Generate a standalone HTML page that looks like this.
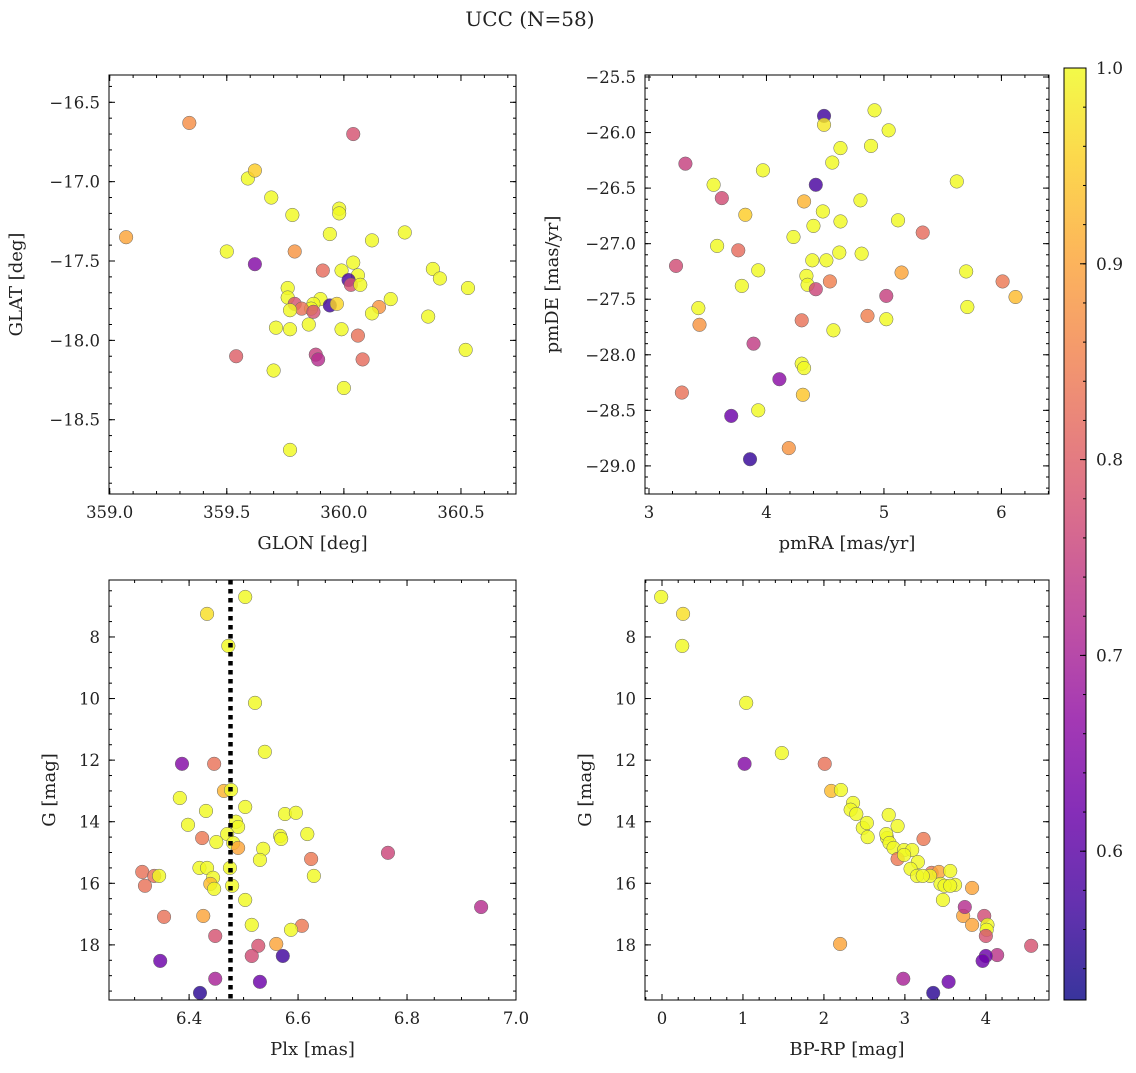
<!DOCTYPE html>
<html><head><meta charset="utf-8"><style>
body{margin:0;background:#fff;}
svg text{font-family:"DejaVu Serif","Liberation Serif",serif;fill:#222;}
</style></head><body>
<svg id="c" width="1136" height="1068" xmlns="http://www.w3.org/2000/svg">
<text x="530" y="26" font-size="20" text-anchor="middle">UCC (N=58)</text>
</svg>
<script>
// Panel 1: GLON / GLAT / prob
const p1x=[359.34,360.04,359.07,359.59,359.62,359.69,359.78,359.50,359.62,359.79,359.98,359.98,359.94,360.12,360.26,359.91,359.99,360.04,360.06,360.02,360.03,360.07,360.38,360.41,360.53,359.76,359.76,359.90,359.87,359.86,359.94,359.97,359.79,359.82,359.77,359.87,360.15,360.20,360.12,360.36,359.71,359.77,359.85,359.99,360.06,359.54,359.88,359.89,360.08,360.52,359.70,360.00,359.77];
const p1y=[-16.63,-16.70,-17.35,-16.98,-16.93,-17.10,-17.21,-17.44,-17.52,-17.44,-17.17,-17.20,-17.33,-17.37,-17.32,-17.56,-17.56,-17.51,-17.59,-17.62,-17.65,-17.65,-17.55,-17.61,-17.67,-17.67,-17.73,-17.74,-17.77,-17.80,-17.78,-17.77,-17.77,-17.80,-17.81,-17.82,-17.79,-17.74,-17.83,-17.85,-17.92,-17.93,-17.90,-17.93,-17.97,-18.10,-18.09,-18.12,-18.12,-18.06,-18.19,-18.30,-18.69];
const p1c=[0.87,0.78,0.9,1,0.95,1,1,1,0.65,0.88,1,1,1,1,1,0.82,1,1,1,0.58,0.78,1,1,1,1,1,1,1,1,1,0.57,0.96,0.78,0.83,1,0.78,0.88,1,1,1,1,1,1,1,0.83,0.8,0.75,0.72,0.82,1,1,1,1];
// Panel 2: pmRA / pmDE / prob
const p2x=[4.92,4.49,4.49,5.04,4.89,4.63,4.56,3.31,3.97,4.42,3.55,5.62,3.62,4.80,4.32,4.48,3.82,4.63,5.12,4.40,4.23,5.33,3.58,3.76,4.62,4.81,4.39,4.51,3.23,3.93,5.15,5.70,4.34,6.01,4.54,4.35,3.79,4.42,5.02,6.12,3.42,5.71,4.86,5.02,4.30,3.43,4.57,3.89,4.30,4.32,4.11,4.31,3.28,3.93,3.70,4.19,3.86];
const p2y=[-25.80,-25.85,-25.93,-25.98,-26.12,-26.14,-26.27,-26.28,-26.34,-26.47,-26.47,-26.44,-26.59,-26.61,-26.62,-26.71,-26.74,-26.80,-26.79,-26.84,-26.94,-26.90,-27.02,-27.06,-27.08,-27.09,-27.15,-27.15,-27.20,-27.24,-27.26,-27.25,-27.29,-27.34,-27.34,-27.37,-27.38,-27.41,-27.47,-27.48,-27.58,-27.57,-27.65,-27.68,-27.69,-27.73,-27.78,-27.90,-28.08,-28.12,-28.22,-28.36,-28.34,-28.50,-28.55,-28.84,-28.94];
const p2c=[1,0.57,0.98,1,1,1,1,0.75,1,0.58,1,1,0.77,1,0.92,1,0.95,1,1,1,1,0.82,1,0.82,1,1,1,1,0.77,1,0.9,1,1,0.84,0.85,1,1,0.76,0.75,0.93,1,1,0.85,1,0.83,0.88,1,0.74,1,1,0.66,0.94,0.83,1,0.62,0.88,0.56];
// Panel 3: Plx / G / prob
const p3x=[6.503,6.433,6.472,6.521,6.539,6.387,6.446,6.383,6.464,6.477,6.431,6.503,6.398,6.486,6.490,6.576,6.596,6.47,6.424,6.567,6.569,6.617,6.481,6.450,6.490,6.536,6.624,6.530,6.765,6.314,6.419,6.433,6.336,6.345,6.444,6.475,6.629,6.439,6.319,6.446,6.479,6.503,6.354,6.426,6.607,6.515,6.587,6.936,6.448,6.560,6.527,6.515,6.572,6.347,6.448,6.530,6.420];
const p3y=[6.70,7.25,8.29,10.14,11.73,12.12,12.12,13.23,13.00,12.97,13.65,13.52,14.10,14.00,14.17,13.75,13.71,14.4,14.53,14.46,14.56,14.40,14.69,14.66,14.85,14.88,15.21,15.24,15.01,15.63,15.50,15.50,15.76,15.76,15.82,15.50,15.76,16.02,16.08,16.18,16.08,16.54,17.09,17.06,17.38,17.35,17.51,16.77,17.71,17.97,18.03,18.36,18.36,18.52,19.10,19.20,19.56];
const p3c=[1,0.97,1,1,1,0.65,0.83,1,0.92,1,1,1,1,1,1,1,1,1,0.84,1,1,1,1,1,0.9,1,0.84,1,0.76,0.83,1,1,0.83,1,1,1,1,0.93,0.83,1,1,1,0.83,0.9,0.84,1,1,0.72,0.78,0.9,0.78,0.77,0.57,0.62,0.7,0.62,0.55];
// Panel 4: BP-RP / G / prob
const p4x=[-0.01,0.26,0.25,1.04,1.02,1.48,2.01,2.09,2.21,2.36,2.33,2.40,2.80,2.48,2.53,2.91,3.23,2.54,2.78,2.77,2.81,2.86,2.99,3.09,2.91,2.99,3.16,3.07,3.33,3.42,3.56,3.31,3.15,3.22,3.44,3.62,3.49,3.56,3.83,3.47,3.72,3.98,3.74,3.83,4.02,4.01,4.00,2.20,4.56,4.14,4.00,3.96,2.98,3.54,3.35];
const p4y=[6.70,7.25,8.29,10.14,12.12,11.77,12.12,13.0,12.97,13.39,13.61,13.75,13.78,14.20,14.04,14.14,14.56,14.50,14.53,14.4,14.69,14.85,14.92,14.92,15.21,15.08,15.31,15.53,15.66,15.63,15.60,15.76,15.76,15.76,16.02,16.05,16.08,16.08,16.15,16.54,17.06,17.06,16.77,17.35,17.35,17.51,17.71,17.97,18.03,18.33,18.36,18.52,19.10,19.20,19.56];
const p4c=[1,0.97,1,1,0.65,1,0.83,0.93,1,1,1,1,1,1,1,1,0.84,1,1,1,1,1,1,1,0.84,1,1,1,0.84,0.9,1,1,1,1,1,1,1,1,0.9,1,0.9,0.77,0.72,0.9,1,1,0.78,0.9,0.78,0.73,0.62,0.62,0.7,0.62,0.55];
const xTicks1=[359.0,359.5,360.0,360.5], yTicks1=[-16.5,-17.0,-17.5,-18.0,-18.5];
const xTicks2=[3,4,5,6], yTicks2=[-25.5,-26.0,-26.5,-27.0,-27.5,-28.0,-28.5,-29.0];
const xTicks3=[6.4,6.6,6.8,7.0], yTicksG=[8,10,12,14,16,18];
const xTicks4=[0,1,2,3,4];
const cbTicks=[0.6,0.7,0.8,0.9,1.0];
const VMIN=0.524,VMAX=1.0;

const NS="http://www.w3.org/2000/svg";
const svg=document.getElementById('c');
function mk(t,a,p){const e=document.createElementNS(NS,t);for(const k in a)e.setAttribute(k,a[k]);(p||svg).appendChild(e);return e;}
const stops=["#0d0887","#41049d","#6a00a8","#8f0da4","#b12a90","#cc4778","#e16462","#f2844b","#fca636","#fcce25","#f0f921"];
function hx(h){return [1,3,5].map(i=>parseInt(h.substr(i,2),16));}
function cmap(v){let t=(v-VMIN)/(VMAX-VMIN);t=Math.max(0,Math.min(1,t));const f=t*10,i=Math.min(9,Math.floor(f)),r=f-i;const a=hx(stops[i]),b=hx(stops[i+1]);return `rgb(${a.map((x,k)=>Math.round(x+(b[k]-x)*r)).join(',')})`;}
function fmt(v,d){const s=v.toFixed(d);return v<0?'\u2212'+s.slice(1):s;}

function panel(o){
  const g=mk('g',{});
  
  
  const sx=v=>o.L+(v-o.xmin)/(o.xmax-o.xmin)*(o.R-o.L);
  const sy=v=>o.T+(v-o.ymax)/(o.ymin-o.ymax)*(o.B-o.T);
  for(let v=Math.ceil(o.xmin/o.xm-1e-6)*o.xm;v<=o.xmax;v+=o.xm){const x=sx(v);mk('line',{x1:x,x2:x,y1:o.B,y2:o.B-3,stroke:'#000'},g);mk('line',{x1:x,x2:x,y1:o.T,y2:o.T+3,stroke:'#000'},g);}
  const lo=Math.min(o.ymin,o.ymax),hi=Math.max(o.ymin,o.ymax);
  for(let v=Math.ceil(lo/o.ym-1e-6)*o.ym;v<=hi;v+=o.ym){const y=sy(v);mk('line',{x1:o.L,x2:o.L+3,y1:y,y2:y,stroke:'#000'},g);mk('line',{x1:o.R,x2:o.R-3,y1:y,y2:y,stroke:'#000'},g);}
  o.xt.forEach(v=>{const x=sx(v);mk('line',{x1:x,x2:x,y1:o.B,y2:o.B-6,stroke:'#000'},g);mk('line',{x1:x,x2:x,y1:o.T,y2:o.T+6,stroke:'#000'},g);
    const t=mk('text',{x:x,y:o.B+24,'font-size':16.5,'text-anchor':'middle'},g);t.textContent=fmt(v,o.xd);
    
    });
  o.yt.forEach(v=>{const y=sy(v);mk('line',{x1:o.L,x2:o.L+6,y1:y,y2:y,stroke:'#000'},g);mk('line',{x1:o.R,x2:o.R-6,y1:y,y2:y,stroke:'#000'},g);
    const t=mk('text',{x:o.L-9,y:y+6,'font-size':16.5,'text-anchor':'end'},g);t.textContent=fmt(v,o.yd);
    
    });
  o.px.forEach((v,i)=>{const c=mk('circle',{cx:sx(v),cy:sy(o.py[i]),r:6.8,fill:cmap(o.pc[i]),'fill-opacity':0.82,stroke:'#666','stroke-width':0.5},g);
    
    });
  if(o.vline){const x=sx(o.vline);const l=mk('line',{x1:x,x2:x,y1:o.T,y2:o.B,stroke:'#000','stroke-width':4.5,'stroke-dasharray':'4.5,4.5'},g);
    
    }
  mk('rect',{x:o.L,y:o.T,width:o.R-o.L,height:o.B-o.T,fill:'none',stroke:'#000','stroke-width':1},g);
  const xl=mk('text',{x:(o.L+o.R)/2,y:o.B+55,'font-size':18,'text-anchor':'middle'},g);xl.textContent=o.xl;
  
  
  const yx=o.L-o.yoff,yy=(o.T+o.B)/2;
  const yl=mk('text',{x:yx,y:yy,'font-size':18,'text-anchor':'middle',transform:`rotate(-90 ${yx} ${yy})`},g);yl.textContent=o.yl;
  
  
}
panel({name:'panel-glon-glat',L:109,R:516,T:75,B:494,xmin:358.997,xmax:360.735,ymin:-18.968,ymax:-16.328,xt:xTicks1,yt:yTicks1,xm:0.1,ym:0.1,xd:1,yd:1,px:p1x,py:p1y,pc:p1c,xl:'GLON [deg]',yl:'GLAT [deg]',yoff:87});
panel({name:'panel-pm',L:645,R:1049,T:75,B:494,xmin:2.966,xmax:6.405,ymin:-29.253,ymax:-25.482,xt:xTicks2,yt:yTicks2,xm:0.2,ym:0.1,xd:0,yd:1,px:p2x,py:p2y,pc:p2c,xl:'pmRA [mas/yr]',yl:'pmDE [mas/yr]',yoff:87});
panel({name:'panel-plx-g',L:109,R:516,T:580,B:1000,xmin:6.253,xmax:7.0,ymin:19.79,ymax:6.15,xt:xTicks3,yt:yTicksG,xm:0.05,ym:0.5,xd:1,yd:0,px:p3x,py:p3y,pc:p3c,xl:'Plx [mas]',yl:'G [mag]',yoff:54,vline:6.476});
panel({name:'panel-cmd',L:645,R:1049,T:580,B:1000,xmin:-0.21,xmax:4.78,ymin:19.79,ymax:6.15,xt:xTicks4,yt:yTicksG,xm:0.2,ym:0.5,xd:0,yd:0,px:p4x,py:p4y,pc:p4c,xl:'BP-RP [mag]',yl:'G [mag]',yoff:54});
const cb=mk('g',{});


const CT=68,CB=1000,CL=1064,CR=1086;
const defs=mk('defs',{},cb);const lg=mk('linearGradient',{id:'gr',x1:0,y1:1,x2:0,y2:0},defs);
for(let i=0;i<=20;i++){const v=VMIN+(VMAX-VMIN)*i/20;mk('stop',{offset:i/20,'stop-color':cmap(v),'stop-opacity':0.82},lg);}
mk('rect',{x:CL,y:CT,width:CR-CL,height:CB-CT,fill:'url(#gr)',stroke:'#000'},cb);
const cy=v=>CB-(v-VMIN)/(VMAX-VMIN)*(CB-CT);
for(let v=0.54;v<=1.0001;v+=0.02){mk('line',{x1:CR,x2:CR-3,y1:cy(v),y2:cy(v),stroke:'#000'},cb);}
cbTicks.forEach(v=>{const y=cy(v);mk('line',{x1:CR,x2:CR-6,y1:y,y2:y,stroke:'#000'},cb);
  const t=mk('text',{x:CR+10,y:y+6,'font-size':17},cb);t.textContent=v.toFixed(1);
  
  });
</script>
</body></html>
